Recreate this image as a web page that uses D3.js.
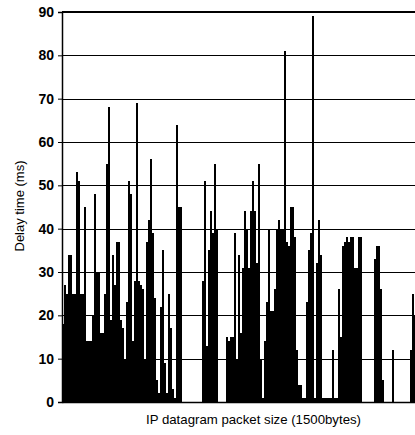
<!DOCTYPE html>
<html>
<head>
<meta charset="utf-8">
<script src="https://cdn.jsdelivr.net/npm/d3@7"></script>
<style>
  body { margin: 0; background: #fff; }
  svg text { font-family: Arial, "Liberation Sans", sans-serif; fill: #000; }
</style>
</head>
<body>
<div id="chart"></div>
<script>
// delay time (ms) of each IP datagram, left to right
const delays = [
  18, 27, 25, 34, 34, 25, 25, 53, 51, 25, 25, 45, 14, 14, 14, 20, 48, 30, 30, 16,
  16, 25, 55, 68, 19, 34, 27, 37, 37, 19, 17, 10, 23, 51, 48, 14, 28, 69, 28, 27,
  26, 10, 37, 42, 56, 39, 24, 5, 2, 22, 35, 9, 2, 25, 17, 3, 1, 64, 45, 45,
  0, 0, 0, 0, 0, 0, 0, 0, 0, 0, 28, 51, 13, 35, 44, 39, 55, 40, 0, 0,
  0, 0, 15, 14, 15, 15, 39, 10, 34, 16, 31, 44, 40, 31, 44, 51, 44, 32, 55, 10,
  1, 14, 23, 40, 21, 21, 26, 40, 42, 40, 40, 81, 37, 36, 45, 45, 38, 12, 4, 4,
  1, 1, 23, 35, 39, 89, 1, 32, 42, 34, 1, 1, 1, 1, 1, 12, 1, 1, 26, 15,
  36, 37, 38, 37, 38, 38, 31, 31, 38, 38, 0, 0, 0, 0, 0, 0, 33, 36, 36, 26,
  5, 0, 0, 0, 0, 12, 0, 0, 0, 0, 0, 0, 0, 0, 12, 25, 20
];
const packets = delays.map((d, i) => i + 1);
const yTicks = [0, 10, 20, 30, 40, 50, 60, 70, 80, 90];

const width = 415, height = 435;
const m = { left: 62, right: 416, top: 12, bottom: 402 };

const svg = d3.select("#chart")
  .append("svg")
  .attr("width", width)
  .attr("height", height);

const x = d3.scaleBand().domain(packets).range([m.left, m.right]).padding(0);
const y = d3.scaleLinear().domain([0, 90]).range([m.bottom, m.top]);

// horizontal grid lines
svg.append("g")
  .attr("transform", `translate(${m.left},0)`)
  .call(d3.axisLeft(y).tickValues(yTicks).tickSize(-(width - m.left)).tickFormat(""))
  .call(g => g.select(".domain").remove())
  .call(g => g.selectAll("line").attr("stroke", "#000").attr("stroke-width", 1)
    .attr("shape-rendering", "crispEdges"));

// bars
svg.append("g")
  .selectAll("rect")
  .data(delays)
  .join("rect")
  .attr("x", (d, i) => x(packets[i]))
  .attr("width", x.bandwidth())
  .attr("y", d => y(d))
  .attr("height", d => y(0) - y(d))
  .attr("fill", "#000")
  .attr("shape-rendering", "crispEdges");

// top border (90 line is heavier)
svg.append("line")
  .attr("x1", m.left).attr("x2", width)
  .attr("y1", y(90)).attr("y2", y(90))
  .attr("stroke", "#000").attr("stroke-width", 2);

// y axis
const yAxis = svg.append("g")
  .attr("transform", `translate(${m.left},0)`)
  .call(d3.axisLeft(y).tickValues(yTicks).tickSize(4).tickPadding(4))
  .call(g => g.select(".domain").attr("stroke", "#000").attr("stroke-width", 1.5));
yAxis.selectAll("line").attr("stroke", "#000");
yAxis.selectAll("text")
  .style("font-family", "Arial, 'Liberation Sans', sans-serif")
  .style("font-size", "14px")
  .style("font-weight", "bold")
  .attr("fill", "#000");

// x axis baseline
svg.append("g")
  .attr("transform", `translate(0,${m.bottom})`)
  .call(d3.axisBottom(x).tickValues([]).tickSizeOuter(0))
  .call(g => g.select(".domain").attr("stroke", "#000").attr("stroke-width", 1.5));

// axis titles
svg.append("text")
  .attr("x", 146)
  .attr("y", 424)
  .attr("textLength", 215)
  .attr("lengthAdjust", "spacingAndGlyphs")
  .style("font-size", "13px")
  .text("IP datagram packet size (1500bytes)");

svg.append("text")
  .attr("transform", "translate(24,206) rotate(-90)")
  .attr("text-anchor", "middle")
  .style("font-size", "13px")
  .text("Delay time (ms)");
</script>
</body>
</html>
